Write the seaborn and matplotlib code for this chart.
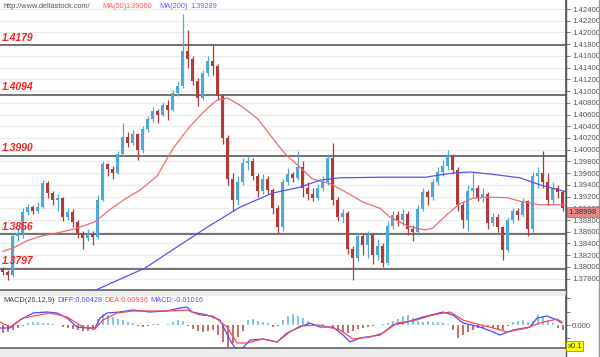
import numpy as np
import pandas as pd
import matplotlib
matplotlib.use("Agg")
import matplotlib.pyplot as plt
import seaborn as sns
from matplotlib.patches import Rectangle
from matplotlib.lines import Line2D

# ---- price data ----
first_open = 1.3796
closes = [1.3792, 1.3787, 1.3852, 1.3858, 1.3893, 1.3902, 1.3896, 1.3903, 1.3943, 1.3926,
          1.3914, 1.3918, 1.3886, 1.3893, 1.3876, 1.3858, 1.3850, 1.3857, 1.3851, 1.3915,
          1.3975, 1.3967, 1.3960, 1.3993, 1.4022, 1.4012, 1.4026, 1.4000, 1.4035, 1.4052,
          1.4066, 1.4060, 1.4076, 1.4068, 1.4096, 1.4108, 1.4168, 1.4155, 1.4118, 1.4088,
          1.4130, 1.4152, 1.4142, 1.4092, 1.4020, 1.3950, 1.3915, 1.3945, 1.3978, 1.3980,
          1.3955, 1.3930, 1.3950, 1.3932, 1.3900, 1.3868, 1.3945, 1.3958, 1.3952, 1.3970,
          1.3935, 1.3925, 1.3918, 1.3935, 1.3945, 1.3985, 1.3915, 1.3885, 1.3892, 1.3830,
          1.3815, 1.3852, 1.3838, 1.3855, 1.3820, 1.3835, 1.3806, 1.3870, 1.3888, 1.3880,
          1.3890, 1.3865, 1.3860, 1.3898, 1.3928, 1.3920, 1.3945, 1.3962, 1.3972, 1.3990,
          1.3965, 1.3905, 1.3880, 1.3930, 1.3935, 1.3918, 1.3925, 1.3875, 1.3885, 1.3868,
          1.3828, 1.3880, 1.3895, 1.3888, 1.3912, 1.3865, 1.3955, 1.3960, 1.3945, 1.3915,
          1.3935, 1.3928, 1.3900]
highs = [1.3800, 1.3795, 1.3856, 1.3866, 1.3900, 1.3908, 1.3906, 1.3910, 1.3948, 1.3946,
         1.3930, 1.3925, 1.3920, 1.3900, 1.3898, 1.3880, 1.3862, 1.3864, 1.3862, 1.3922,
         1.3980, 1.3978, 1.3972, 1.3998, 1.4045, 1.4030, 1.4034, 1.4028, 1.4040, 1.4058,
         1.4072, 1.4070, 1.4082, 1.4085, 1.4102, 1.4118, 1.4232, 1.4205, 1.4160, 1.4122,
         1.4136, 1.4160, 1.4179, 1.4146, 1.4095, 1.4025, 1.3960, 1.3955, 1.3985, 1.3990,
         1.3985, 1.3960, 1.3958, 1.3955, 1.3935, 1.3905, 1.3950, 1.3968, 1.3962, 1.3998,
         1.3980, 1.3945, 1.3935, 1.3942, 1.3955, 1.3992, 1.4012, 1.3920, 1.3898, 1.3895,
         1.3835, 1.3858, 1.3856, 1.3862, 1.3858, 1.3848, 1.3840, 1.3878, 1.3895, 1.3895,
         1.3898, 1.3895, 1.3872, 1.3905, 1.3935, 1.3932, 1.3950, 1.3970, 1.3982, 1.3999,
         1.3992, 1.3970, 1.3910, 1.3940, 1.3960, 1.3940, 1.3935, 1.3928, 1.3892, 1.3890,
         1.3870, 1.3886, 1.3900, 1.3900, 1.3918, 1.3915, 1.3962, 1.3970, 1.3998, 1.3960,
         1.3945, 1.3940, 1.3932]
lows = [1.3786, 1.3778, 1.3782, 1.3845, 1.3850, 1.3888, 1.3890, 1.3892, 1.3900, 1.3918,
        1.3905, 1.3895, 1.3878, 1.3880, 1.3868, 1.3850, 1.3830, 1.3845, 1.3838, 1.3848,
        1.3912, 1.3955, 1.3950, 1.3958, 1.3990, 1.4005, 1.4008, 1.3982, 1.3995, 1.4030,
        1.4048, 1.4045, 1.4058, 1.4050, 1.4066, 1.4092, 1.4105, 1.4140, 1.4110, 1.4075,
        1.4085, 1.4125, 1.4128, 1.4085, 1.4010, 1.3940, 1.3895, 1.3905, 1.3940, 1.3965,
        1.3948, 1.3920, 1.3925, 1.3925, 1.3890, 1.3858, 1.3862, 1.3940, 1.3945, 1.3948,
        1.3920, 1.3915, 1.3912, 1.3915, 1.3930, 1.3940, 1.3905, 1.3878, 1.3875, 1.3822,
        1.3778, 1.3810, 1.3820, 1.3815, 1.3805, 1.3812, 1.3800, 1.3803, 1.3865, 1.3870,
        1.3872, 1.3855, 1.3845, 1.3855, 1.3895, 1.3905, 1.3915, 1.3940, 1.3955, 1.3965,
        1.3958, 1.3895, 1.3866, 1.3862, 1.3920, 1.3912, 1.3910, 1.3865, 1.3870, 1.3860,
        1.3812, 1.3825, 1.3875, 1.3880, 1.3885, 1.3852, 1.3860, 1.3935, 1.3935, 1.3905,
        1.3908, 1.3918, 1.3895]

# moving averages (candle index, price)
ma50_idx = [0, 2.5, 5, 7.5, 11.5, 14.5, 18.5, 21.5, 24.5, 27.5, 30.9, 34.1, 37.5, 40.9, 43,
            45, 47.5, 51, 54, 56.5, 59.5, 62, 65.5, 69, 72, 75.5, 77.5, 81, 84.5, 86, 89,
            91.5, 94, 97, 101, 104, 107.5, 112.7]
ma50_val = [1.3826, 1.3834, 1.3845, 1.3852, 1.3859, 1.3865, 1.3877, 1.3898, 1.3916, 1.3931,
            1.3955, 1.4002, 1.4040, 1.4070, 1.4085, 1.4088, 1.4076, 1.4053, 1.4020, 1.3993,
            1.3970, 1.3950, 1.3942, 1.3926, 1.3911, 1.3900, 1.3885, 1.3870, 1.3863, 1.3866,
            1.3890, 1.3908, 1.3917, 1.3919, 1.3918, 1.3911, 1.3906, 1.3906]
ma200_idx = [18.5, 28.5, 34, 41, 47.5, 54, 59.5, 63.5, 67.5, 75.5, 84.5, 90, 93.5, 98,
             103.5, 107.5, 112.7]
ma200_val = [1.3760, 1.3798, 1.3829, 1.3868, 1.3902, 1.3926, 1.3936, 1.3948, 1.3952, 1.3953,
             1.3953, 1.3960, 1.3962, 1.3958, 1.3952, 1.3940, 1.3928]

levels = [1.4179, 1.4094, 1.3990, 1.3856, 1.3797]
level_labels = ["1.4179", "1.4094", "1.3990", "1.3856", "1.3797"]
price_ticks = [1.378, 1.380, 1.382, 1.384, 1.386, 1.388, 1.390, 1.392, 1.394, 1.396, 1.398,
               1.400, 1.402, 1.404, 1.406, 1.408, 1.410, 1.412, 1.414, 1.416, 1.418, 1.420,
               1.422, 1.424]

# ---- MACD panel (units of 0.001 of panel scale) ----
macd_hist = [-8, -7, -5, -3, -1, 2, 3, 3, 2, 2, 1, 0, -2, -3, -4, -5, -6, -6, -5, 6, 11, 10,
             8, 6, 5, 3, 2, -1, -2, -1, 1, 1, 0, 1, 3, 5, 4, -1, -4, -6, -7, -6, -5, -10,
             -17, -22, -18, -12, -6, 5, 6, 4, 3, 2, -2, -1, 5, 9, 11, 9, 7, 4, 1, -1, 1, 0,
             -3, -5, -7, -8, -6, -4, -3, -2, -1, 0, 1, 2, 4, 6, 9, 10, 7, 4, 3, 4, 3, 3, 2,
             1, -5, -13, -10, -7, -5, -3, -3, -2, -3, -4, -5, -1, 3, 4, 5, 3, 4, 10, 8, 5,
             2, -3, -5]
diff_idx = [-0.5, 1.5, 3.5, 6.1, 8.9, 10.9, 12.9, 14.9, 16.9, 18.5, 19.5, 20.9, 23.5, 26.1,
            29.5, 32.9, 35.5, 36.9, 37.9, 40.9, 43.5, 45.5, 46.5, 48.1, 49.5, 52.1, 54.9,
            56.9, 59.5, 61.5, 63.5, 66.1, 68.1, 69.5, 71.5, 75.5, 78.1, 80.9, 84.1, 88.1,
            90.1, 92.1, 95.5, 98.1, 99.5, 102.1, 105.5, 106.9, 108.9, 110.9, 111.9]
diff_val = [-3, -3, 5, 12, 13, 12, 7, -2, -3, -3, 7, 12, 13, 15, 13, 14, 17, 18, 13, 10, 5,
            -15, -23, -23, -15, -14, -17, -8, -2, 2, -2, -2, -10, -17, -13, -10, 0, 3, 8,
            13, 10, 2, -2, -7, -10, -5, -2, 7, 9, 5, 2]
dea_idx = [-0.5, 1.5, 4.1, 9.5, 12.9, 16.1, 18.5, 20.1, 22.9, 26.1, 32.9, 36.9, 39.5, 42.1,
           44.9, 46.9, 48.9, 52.1, 54.9, 57.5, 59.5, 63.5, 67.5, 70.1, 73.5, 76.1, 78.9,
           82.1, 86.1, 89.5, 92.1, 94.1, 98.1, 100.9, 104.9, 107.5, 110.9, 111.9]
dea_val = [3, -2, 7, 12, 8, -2, -4, 5, 12, 14, 14, 15, 10, 9, -2, -18, -18, -14, -17, -7,
           -1, 0, -5, -14, -12, -8, 2, 4, 10, 13, 5, 2, -3, -7, -3, 2, 6, 3]

BLUE = "#4fa8da"
RED = "#b33a3a"

sns.set_theme(style="white")
plt.rcParams["font.family"] = ["Liberation Sans", "DejaVu Sans"]

W, H = 600, 357


def box(x0, y0, x1, y1):
    return [x0 / W, 1 - y1 / H, (x1 - x0) / W, (y1 - y0) / H]


fig = plt.figure(figsize=(6, 3.57), dpi=100)
fig.patch.set_facecolor("white")
ax = fig.add_axes(box(0, 0, 566, 290))
ax2 = fig.add_axes(box(0, 296, 566, 348))

# gray strips between/below panels
fig.add_artist(Rectangle((0, 1 - 296 / H), 566 / W, 6 / H, transform=fig.transFigure,
                         color="#ececec", zorder=-1))
fig.add_artist(Rectangle((0, 0), 566 / W, 9 / H, transform=fig.transFigure,
                         color="#ececec", zorder=-1))

# ---- candles ----
df = pd.DataFrame({"close": closes, "high": highs, "low": lows})
df["open"] = [first_open] + closes[:-1]
df["x"] = np.arange(len(df))
df["up"] = df["close"] >= df["open"]
cols = np.where(df["up"], BLUE, RED)
top = df[["open", "close", "high"]].max(axis=1)
bot = df[["open", "close", "low"]].min(axis=1)

for lv, lab in zip(levels, level_labels):
    ax.axhline(lv, color="#5a5a5a", lw=1.2, zorder=1)
    ax.annotate(lab, xy=(0, lv), xycoords=("axes fraction", "data"), xytext=(1.5, 1.6),
                textcoords="offset points", color="#ff1e1e", fontsize=7.5,
                fontweight="bold", fontstyle="italic", va="bottom", ha="left", zorder=5)

ax.vlines(df["x"], bot, top, colors=cols, lw=0.9, zorder=2)
body = (df["close"] - df["open"]).abs().clip(lower=0.0001)
ax.bar(df["x"], body, bottom=df[["open", "close"]].min(axis=1), width=0.65,
       color=cols, lw=0, zorder=2)

sns.lineplot(x=ma50_idx, y=ma50_val, ax=ax, color="#f46a6a", lw=0.9, zorder=3)
sns.lineplot(x=ma200_idx, y=ma200_val, ax=ax, color="#5555ee", lw=0.9, zorder=3)

ax.set_xlim(-0.5, 112.7)
ax.set_ylim(1.37606, 1.42554)
ax.set_xticks([])
ax.yaxis.tick_right()
ax.set_yticks(price_ticks)
ax.set_yticklabels([f"{t:.5f}" for t in price_ticks])
ax.tick_params(axis="y", length=3, width=0.6, colors="#666666", labelsize=5.6,
               labelcolor="#555555", pad=1.5, direction="out", right=True)
ax.grid(axis="y", color="#ececec", lw=0.8)
ax.set_axisbelow(True)
for s in ["top", "left"]:
    ax.spines[s].set_visible(False)
for s in ["bottom", "right"]:
    ax.spines[s].set_color("#555555")
    ax.spines[s].set_linewidth(1.1)
ax.set_xlabel("")
ax.set_ylabel("")

# ---- MACD ----
hist = np.array(macd_hist)
ax2.bar(np.arange(len(hist)), hist, width=0.4,
        color=np.where(hist >= 0, "#86c3e3", "#c77070"), lw=0, zorder=2)
sns.lineplot(x=diff_idx, y=diff_val, ax=ax2, color="#4a4aff", lw=0.9, zorder=3)
sns.lineplot(x=dea_idx, y=dea_val, ax=ax2, color="#ff4a4a", lw=0.9, zorder=3)
ax2.set_xlim(-0.5, 112.7)
ax2.set_ylim(-23, 29)
ax2.set_xticks([])
ax2.yaxis.tick_right()
ax2.set_yticks([27, 13, 0, -13])
ax2.set_yticklabels(["", "", "0.000", ""])
ax2.tick_params(axis="y", length=3, width=0.6, colors="#666666", labelsize=5.6,
                labelcolor="#555555", pad=1.5, direction="out", right=True)
for s in ["top", "left"]:
    ax2.spines[s].set_visible(False)
for s in ["bottom", "right"]:
    ax2.spines[s].set_color("#555555")
    ax2.spines[s].set_linewidth(1.1)
ax2.set_xlabel("")
ax2.set_ylabel("")


# ---- header texts ----
def ftext(x, y, s, color, size=5.3, **kw):
    fig.text(x / W, 1 - y / H, s, color=color, fontsize=size, va="center", ha="left", **kw)


ftext(3, 6, "http://www.deltastock.com/", "#555555")
ftext(102, 6, "MA(50)", "#ff5a5a")
ftext(125, 6, "1.39060", "#ff5a5a")
ftext(159, 6, "MA(200)", "#6060ff")
ftext(190, 6, "1.39289", "#6060ff")

ftext(3, 301, "MACD(26,12,9)", "#444444")
ftext(57, 301, "DIFF:0.00428", "#5050ff")
ftext(104, 301, "DEA:0.00936", "#ff5050")
ftext(150, 301, "MACD:-0.01016", "#5050ff")

# last price box and scale box
fig.text(568.5 / W, 1 - 212 / H, "1.38998", fontsize=5.6, color="#333333", va="center",
         zorder=10, bbox=dict(boxstyle="square,pad=0.25", fc="#e58a8a", ec="#cc6666", lw=0.6))
fig.text(567.5 / W, 1 - 346 / H, "x0.1", fontsize=5.6, color="#333333", va="center",
         bbox=dict(boxstyle="square,pad=0.15", fc="#ffff00", ec="#999900", lw=0.6))

fig.add_artist(Line2D([566 / W, 566 / W], [0, 1], transform=fig.transFigure,
                      color="#555555", lw=1.0))
fig.add_artist(Line2D([599 / W, 599 / W], [0, 1], transform=fig.transFigure,
                      color="#999999", lw=1.0))

fig.savefig("out.png", dpi=100)
